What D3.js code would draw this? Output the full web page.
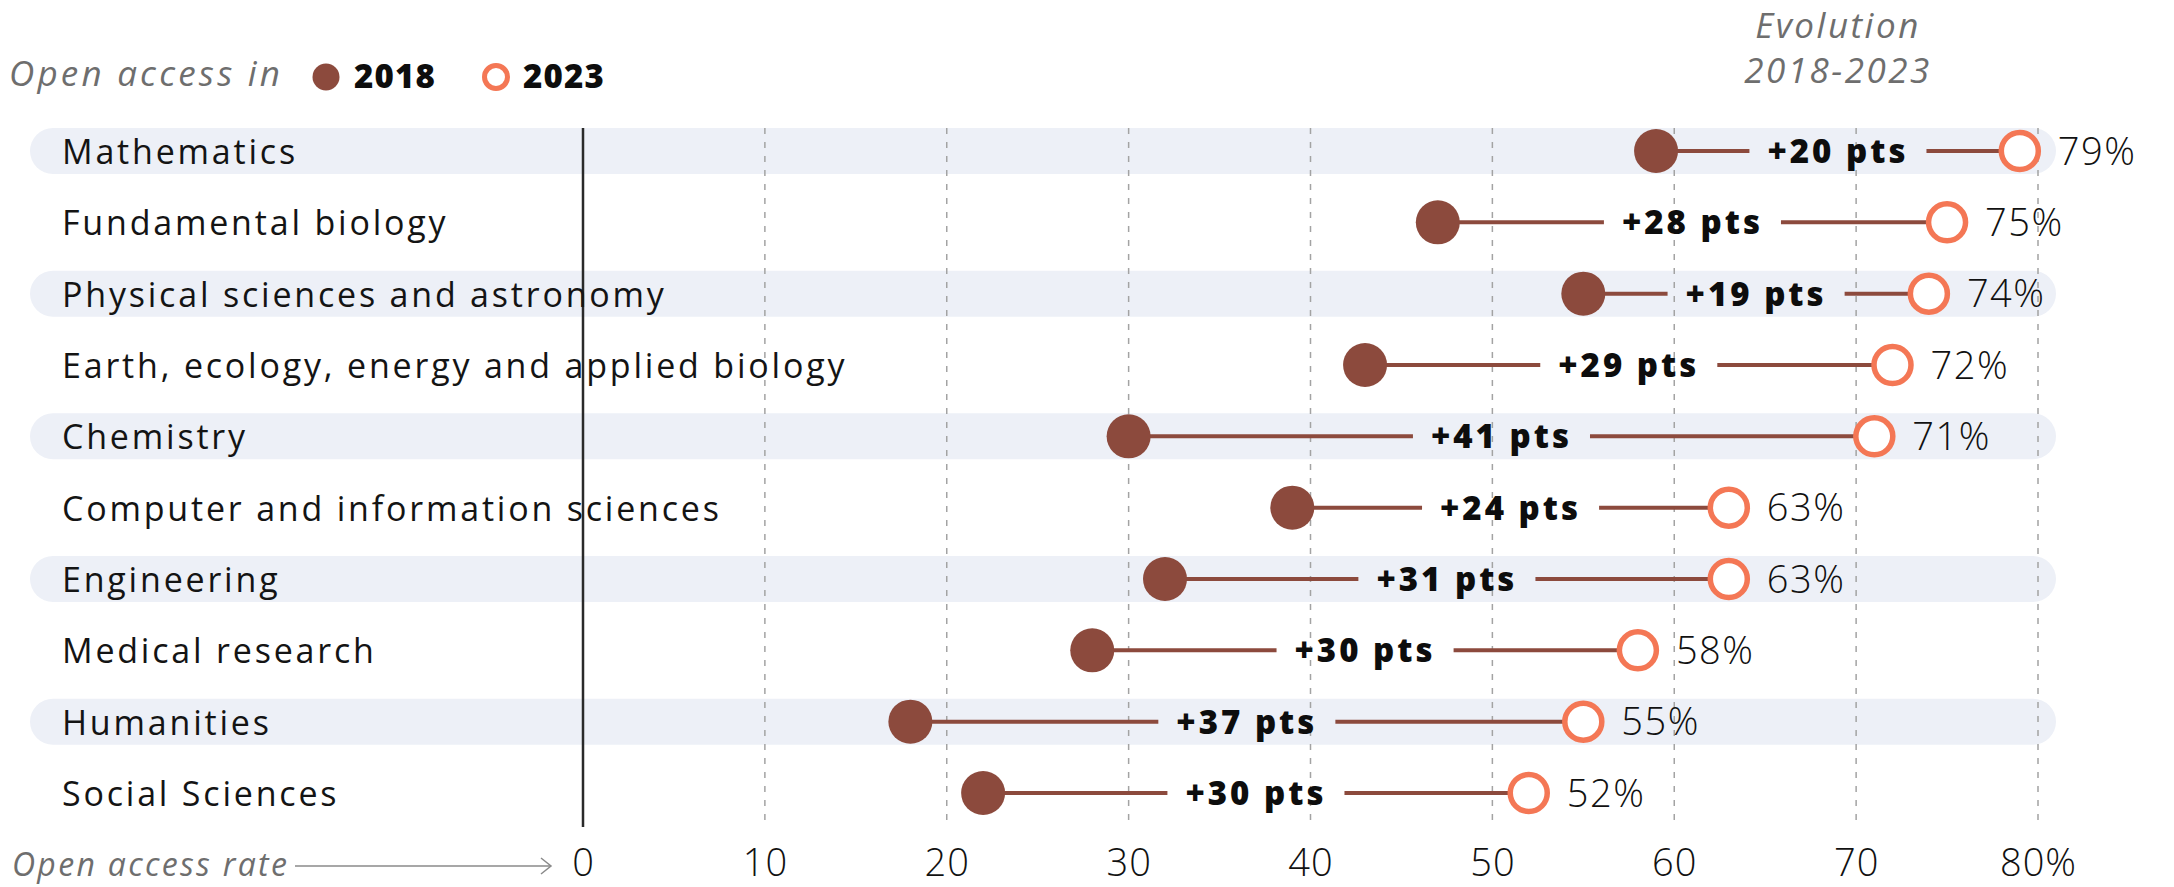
<!DOCTYPE html>
<html>
<head>
<meta charset="utf-8">
<script src="https://cdn.jsdelivr.net/npm/d3@7"></script>
<style>
  html, body { margin: 0; padding: 0; background: #ffffff; }
  svg { display: block; }
  text { font-family: "Open Sans", "Noto Sans", sans-serif; }
</style>
</head>
<body>
<svg id="chart" width="2174" height="887"></svg>
<script>
// Open access rate by discipline, 2018 vs 2023
const categories = [
  "Mathematics",
  "Fundamental biology",
  "Physical sciences and astronomy",
  "Earth, ecology, energy and applied biology",
  "Chemistry",
  "Computer and information sciences",
  "Engineering",
  "Medical research",
  "Humanities",
  "Social Sciences"
];
const values2018 = [59, 47, 55, 43, 30, 39, 32, 28, 18, 22];
const values2023 = [79, 75, 74, 72, 71, 63, 63, 58, 55, 52];
const xTicks = [0, 10, 20, 30, 40, 50, 60, 70, 80];

const COLOR_2018 = "#8c4a3d";
const COLOR_2023 = "#f47755";
const LINE_COLOR = "#8c4a3d";
const BAND_COLOR = "#edf0f7";
const GREY_TEXT = "#6e6e6e";

const svg = d3.select("#chart");

const x = d3.scaleLinear().domain([0, 80]).range([583, 2038]);
const y = d3.scalePoint().domain(categories).range([151, 793]);

const rows = categories.map((c, i) => ({
  name: c, v18: values2018[i], v23: values2023[i], i
}));

// alternating row bands
const bandH = 46;
svg.append("g").selectAll("rect")
  .data(rows.filter(d => d.i % 2 === 0))
  .join("rect")
  .attr("x", 30)
  .attr("y", d => y(d.name) - bandH / 2)
  .attr("width", 2056 - 30)
  .attr("height", bandH)
  .attr("rx", bandH / 2)
  .attr("fill", BAND_COLOR);

// vertical grid
const gridTop = 128, gridBottom = 827;
svg.append("g").selectAll("line")
  .data(xTicks.filter(t => t > 0))
  .join("line")
  .attr("x1", d => x(d)).attr("x2", d => x(d))
  .attr("y1", gridTop).attr("y2", gridBottom)
  .attr("stroke", "#a3a3a3")
  .attr("stroke-width", 1.5)
  .attr("stroke-dasharray", "6,8");

svg.append("line")
  .attr("x1", x(0)).attr("x2", x(0))
  .attr("y1", gridTop).attr("y2", gridBottom)
  .attr("stroke", "#2a2a2a")
  .attr("stroke-width", 2.5);

// category labels
svg.append("g").selectAll("text")
  .data(rows)
  .join("text")
  .attr("x", 62)
  .attr("y", d => y(d.name) + 13)
  .attr("font-size", 34)
  .attr("letter-spacing", 2.8)
  .attr("fill", "#141414")
  .text(d => d.name);

// dumbbells
const r18 = 22, r23 = 18.5, gap = 18;
const rowG = svg.append("g").selectAll("g")
  .data(rows)
  .join("g")
  .attr("transform", d => `translate(0,${y(d.name)})`);

rowG.each(function(d) {
  const g = d3.select(this);
  const x18 = x(d.v18), x23 = x(d.v23);
  const mid = (x18 + x23) / 2;
  const diff = Math.round(d.v23 - d.v18);

  const lbl = g.append("text")
    .attr("x", mid)
    .attr("dy", "0.36em")
    .attr("text-anchor", "middle")
    .attr("font-size", 33)
    .attr("font-weight", 800)
    .attr("letter-spacing", 3)
    .attr("fill", "#0d0d0d")
    .text(`+${diff} pts`);
  const w = lbl.node().getComputedTextLength();

  g.insert("line", "text")
    .attr("x1", x18).attr("x2", mid - w / 2 - gap)
    .attr("stroke", LINE_COLOR).attr("stroke-width", 4);
  g.insert("line", "text")
    .attr("x1", mid + w / 2 + gap).attr("x2", x23)
    .attr("stroke", LINE_COLOR).attr("stroke-width", 4);

  g.append("circle")
    .attr("cx", x18).attr("r", r18)
    .attr("fill", COLOR_2018);
  g.append("circle")
    .attr("cx", x23).attr("r", r23)
    .attr("fill", "#ffffff")
    .attr("stroke", COLOR_2023).attr("stroke-width", 5.5);

  g.append("text")
    .attr("x", x23 + 38)
    .attr("dy", "0.36em")
    .attr("font-size", 38)
    .attr("font-weight", 300)
    .attr("letter-spacing", 1.5)
    .attr("fill", "#111")
    .text(`${d.v23}%`);
});

// x axis
const axis = d3.axisBottom(x)
  .tickValues(xTicks)
  .tickSize(0)
  .tickPadding(3)
  .tickFormat(d => d === 80 ? "80%" : String(d));
const axG = svg.append("g")
  .attr("transform", "translate(0,846)")
  .call(axis);
axG.select(".domain").remove();
axG.selectAll("text")
  .attr("font-family", '"Open Sans", sans-serif')
  .attr("font-size", 38)
  .attr("font-weight", 300)
  .attr("letter-spacing", 1)
  .attr("fill", "#111");

// axis caption with arrow
svg.append("text")
  .attr("x", 12).attr("y", 876)
  .attr("font-size", 32)
  .attr("font-style", "italic")
  .attr("letter-spacing", 2.3)
  .attr("fill", GREY_TEXT)
  .text("Open access rate");
svg.append("line")
  .attr("x1", 295).attr("x2", 551)
  .attr("y1", 866).attr("y2", 866)
  .attr("stroke", "#8a8a8a").attr("stroke-width", 1.5);
svg.append("path")
  .attr("d", "M541,858 L551,866 L541,874")
  .attr("fill", "none")
  .attr("stroke", "#8a8a8a").attr("stroke-width", 1.5);

// legend
const leg = svg.append("g");
leg.append("text")
  .attr("x", 9).attr("y", 86)
  .attr("font-size", 35)
  .attr("font-style", "italic")
  .attr("letter-spacing", 3.2)
  .attr("fill", GREY_TEXT)
  .text("Open access in");
leg.append("circle").attr("cx", 326).attr("cy", 77).attr("r", 13.5).attr("fill", COLOR_2018);
leg.append("text")
  .attr("x", 354).attr("y", 88)
  .attr("font-size", 33).attr("font-weight", 800).attr("letter-spacing", 1.2)
  .attr("fill", "#0d0d0d")
  .text("2018");
leg.append("circle").attr("cx", 496).attr("cy", 77).attr("r", 11.5)
  .attr("fill", "#fff").attr("stroke", COLOR_2023).attr("stroke-width", 5);
leg.append("text")
  .attr("x", 523).attr("y", 88)
  .attr("font-size", 33).attr("font-weight", 800).attr("letter-spacing", 1.2)
  .attr("fill", "#0d0d0d")
  .text("2023");

// evolution header
const evo = svg.append("text")
  .attr("text-anchor", "middle")
  .attr("font-size", 35)
  .attr("font-style", "italic")
  .attr("letter-spacing", 2.5)
  .attr("fill", GREY_TEXT);
evo.append("tspan").attr("x", 1838).attr("y", 38).text("Evolution");
evo.append("tspan").attr("x", 1838).attr("y", 83).text("2018-2023");
</script>
</body>
</html>
